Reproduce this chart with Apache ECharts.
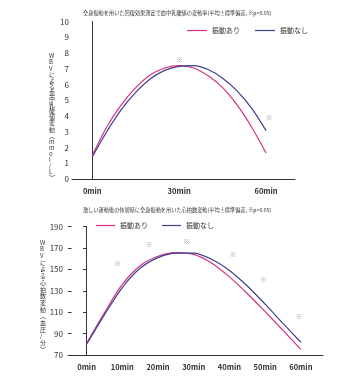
<!DOCTYPE html>
<html><head><meta charset="utf-8">
<script src="https://cdn.jsdelivr.net/npm/echarts@6/dist/echarts.min.js"></script>
<style>html,body{margin:0;padding:0;background:#fff}#c{width:350px;height:391px}</style>
</head><body><div id="c"></div>
<script>
const seriesNames = ['振動あり', '振動なし'];
const titleTop = '全身振動を用いた回復効果測定で血中乳酸値の変動率(平均±標準偏差, ※p<0.05)';
const titleBot = '激しい運動後の休憩時に全身振動を用いた心拍数変動(平均±標準偏差, ※p<0.05)';
const yNameTop = 'WBVによる血中乳酸値変動︵mmol/L︶';
const yNameBot = 'WBVによる心拍数変動︵血圧/分︶';

// top chart (minutes, mmol/L)
const topX = [0, 5, 10, 15, 20, 25, 30, 35, 40, 45, 50, 55, 60];
const topPink = [1.5, 3.3, 4.7, 5.8, 6.6, 7.05, 7.2, 7.05, 6.55, 5.8, 4.7, 3.3, 1.65];
const topBlue = [1.4, 3.0, 4.4, 5.5, 6.35, 6.9, 7.15, 7.2, 6.95, 6.4, 5.6, 4.5, 3.07];
const topStarX = [30, 61];
const topStarY = [7.6, 3.92];
const topTicks = [0, 30, 60];

// bottom chart (minutes, beats)
const botX = [0, 5, 10, 15, 20, 25, 30, 35, 40, 45, 50, 55, 60];
const botPink = [80.9, 109.5, 136, 153.5, 162.3, 165.6, 164, 156, 143, 127.5, 110.5, 93, 75.3];
const botBlue = [80, 107.5, 133, 151, 161, 165.3, 165.3, 159.5, 149, 134.5, 117.5, 99.5, 81.9];
const botStarX = [8.7, 17.5, 28, 41, 49.5, 59.5];
const botStarY = [155.7, 173.4, 176.5, 164, 140.7, 106.4];
const botTicks = [0, 10, 20, 30, 40, 50, 60];

const PINK = '#d4317f', BLUE = '#3c3f8e', AX = '#333';
const FONT = '"Noto Sans CJK JP", "Noto Sans", sans-serif';
const pair = (xs, ys) => xs.map((x, i) => [x, ys[i]]);
const vert = s => Array.from(s).join('\n');

const chart = echarts.init(document.getElementById('c'));
const lineS = (name, color, xi, yi, data) => ({
  name, type: 'line', xAxisIndex: xi, yAxisIndex: yi, data, smooth: 0.3,
  showSymbol: false, lineStyle: { color, width: 1.2 }, itemStyle: { color }
});
const starS = (xi, yi, data) => ({
  type: 'scatter', xAxisIndex: xi, yAxisIndex: yi, data, symbolSize: 2,
  itemStyle: { color: 'rgba(0,0,0,0)' }, silent: true,
  label: { show: true, position: 'inside', formatter: '※', color: '#888', fontSize: 7, fontFamily: FONT }
});
const xAx = (gi, min, max, ticks) => ({
  type: 'value', gridIndex: gi, min, max, splitLine: { show: false },
  axisLine: { lineStyle: { color: AX, width: 1 } }, axisTick: { show: false },
  axisLabel: { customValues: ticks, formatter: v => v + 'min', color: '#333', fontSize: 7.5, fontWeight: 'bold', fontFamily: FONT, margin: 8 }
});

chart.setOption({
  animation: false,
  textStyle: { fontFamily: FONT },
  title: [
    { text: titleTop, left: 83, top: 10, padding: 0, textStyle: { fontSize: 5.2, fontWeight: 'normal', color: '#333', fontFamily: FONT } },
    { text: titleBot, left: 83, top: 207, padding: 0, textStyle: { fontSize: 5.2, fontWeight: 'normal', color: '#333', fontFamily: FONT } }
  ],
  legend: [
    { data: seriesNames, left: 182, top: 22, icon: 'rect', itemWidth: 20, itemHeight: 1.2, itemGap: 15,
      textStyle: { fontSize: 7, color: '#333', fontFamily: FONT } },
    { data: seriesNames, left: 91, top: 217, icon: 'rect', itemWidth: 19, itemHeight: 1.2, itemGap: 14,
      textStyle: { fontSize: 7, color: '#333', fontFamily: FONT } }
  ],
  grid: [
    { left: 72, top: 21.5, width: 223, height: 157.5 },
    { left: 68, top: 226.6, width: 255, height: 128.4 }
  ],
  xAxis: [ xAx(0, -7, 70, topTicks), xAx(1, -5.2, 66.2, botTicks) ],
  yAxis: [
    { type: 'value', gridIndex: 0, min: 0, max: 10, interval: 1, splitLine: { show: false },
      axisLine: { show: true, lineStyle: { color: AX } }, axisTick: { show: false },
      axisLabel: { color: '#333', fontSize: 8, margin: 3, fontFamily: FONT } },
    { type: 'value', gridIndex: 1, position: 'left', min: 70, max: 190, interval: 20, splitLine: { show: false },
      axisLine: { show: true, lineStyle: { color: AX } }, axisTick: { show: true, length: 3.5, lineStyle: { color: AX } },
      axisLabel: { color: '#333', fontSize: 8, margin: 5, fontFamily: FONT } },
    { type: 'value', gridIndex: 1, position: 'left', offset: 0, min: 70, max: 190, interval: 20, splitLine: { show: false },
      axisLine: { show: false }, axisTick: { show: true, inside: true, length: 3.5, lineStyle: { color: AX } },
      axisLabel: { show: false } }
  ],
  graphic: [
    { type: 'text', left: 49, top: 53, style: { text: vert(yNameTop), fontSize: 6, lineHeight: 6.1, fill: '#333', align: 'center', fontFamily: FONT } },
    { type: 'text', left: 40, top: 239, style: { text: vert(yNameBot), fontSize: 6, lineHeight: 6.7, fill: '#333', align: 'center', fontFamily: FONT } }
  ],
  series: [
    lineS(seriesNames[0], PINK, 0, 0, pair(topX, topPink)),
    lineS(seriesNames[1], BLUE, 0, 0, pair(topX, topBlue)),
    starS(0, 0, pair(topStarX, topStarY)),
    lineS(seriesNames[0], PINK, 1, 1, pair(botX, botPink)),
    lineS(seriesNames[1], BLUE, 1, 1, pair(botX, botBlue)),
    starS(1, 1, pair(botStarX, botStarY))
  ]
});
</script></body></html>
